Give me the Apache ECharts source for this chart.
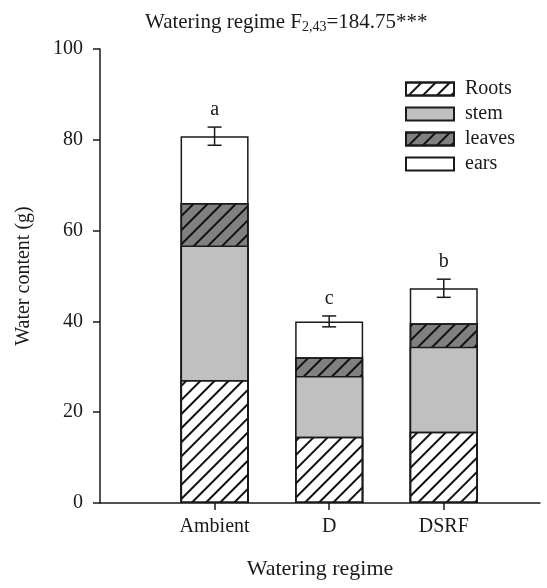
<!DOCTYPE html>
<html>
<head>
<meta charset="utf-8">
<script src="https://cdn.jsdelivr.net/npm/echarts@6/dist/echarts.min.js"></script>
<style>
  html, body { margin: 0; padding: 0; background: #fff; }
  #chart { width: 547px; height: 588px; }
</style>
</head>
<body>
<div id="chart"></div>
<script>
// Water content of plant parts (g) under three watering regimes
const regimes = ['Ambient', 'D', 'DSRF'];
const positions = [1, 2, 3];
const roots = [27.1, 14.6, 15.7];
const stem = [29.6, 13.4, 18.7];
const leaves = [9.4, 4.1, 5.2];
const ears = [14.7, 7.9, 7.7];
const totalErr = [2.0, 1.2, 2.0];
const letters = ['a', 'c', 'b'];
const yTicks = [0, 20, 40, 60, 80, 100];

const FONT = 'Liberation Serif';
const INK = '#1a1a1a';

const hatch = {
  symbol: 'rect',
  symbolSize: 1,
  color: '#111',
  dashArrayX: [1, 0],
  dashArrayY: [1.6, 7.6],
  rotation: -Math.PI / 4
};

// Running tops of each stacked part: roots, +stem, +leaves, +ears
const parts = [roots, stem, leaves, ears];
const tops = parts.map((_, k) =>
  regimes.map((_, i) => parts.slice(0, k + 1).reduce((s, arr) => s + arr[i], 0))
);
const totals = tops[3];

// Each part is drawn as a bar from zero to its running top; upper parts are
// drawn first so the lower parts sit over them and show only their own band.
function barSeries(name, k, fill, decal) {
  const itemStyle = {
    color: fill,
    borderColor: INK,
    borderWidth: 1.5
  };
  if (decal) itemStyle.decal = decal;
  return {
    name: name,
    type: 'bar',
    barWidth: 68,
    barGap: '-100%',
    z: 2 + (3 - k) * 0.1,
    data: tops[k].map((v, i) => [positions[i], v]),
    itemStyle: itemStyle,
    emphasis: { disabled: true },
    animation: false
  };
}

const chart = echarts.init(document.getElementById('chart'), null, { renderer: 'canvas' });

chart.setOption({
  backgroundColor: '#fff',
  animation: false,
  title: {
    text: '{t|Watering regime F}{s|2,43}{t|=184.75***}',
    left: 145,
    top: 10,
    padding: 0,
    textStyle: {
      fontWeight: 'normal',
      rich: {
        t: { fontFamily: FONT, fontSize: 21, fontWeight: 'normal', color: INK, lineHeight: 24 },
        s: { fontFamily: FONT, fontSize: 14, fontWeight: 'normal', color: INK, lineHeight: 12, verticalAlign: 'bottom' }
      }
    }
  },
  legend: {
    orient: 'vertical',
    left: 400,
    top: 74,
    itemWidth: 48,
    itemHeight: 13,
    itemGap: 5,
    icon: 'rect',
    selectedMode: false,
    data: ['Roots', 'stem', 'leaves', 'ears'],
    textStyle: { fontFamily: FONT, fontSize: 20, color: INK, padding: [0, 0, 0, 6] }
  },
  grid: { left: 100, right: 7, top: 49, bottom: 85, containLabel: false },
  xAxis: {
    type: 'value',
    min: 0,
    max: 3.84,
    name: 'Watering regime',
    nameLocation: 'middle',
    nameGap: 55,
    nameTextStyle: { fontFamily: FONT, fontSize: 22, color: INK },
    splitLine: { show: false },
    axisLine: { show: true, lineStyle: { color: INK, width: 1.5 } },
    axisTick: { show: true, inside: false, length: 7, customValues: positions, lineStyle: { color: INK, width: 1.5 } },
    axisLabel: {
      customValues: positions,
      margin: 14,
      fontFamily: FONT,
      fontSize: 20,
      color: INK,
      formatter: v => regimes[positions.indexOf(v)] || ''
    }
  },
  yAxis: {
    type: 'value',
    min: 0,
    max: 100,
    interval: 20,
    name: 'Water content (g)',
    nameLocation: 'middle',
    nameGap: 66,
    nameTextStyle: { fontFamily: FONT, fontSize: 20, color: INK },
    splitLine: { show: false },
    axisLine: { show: true, lineStyle: { color: INK, width: 1.5 } },
    axisTick: { show: true, inside: false, length: 7, lineStyle: { color: INK, width: 1.5 } },
    axisLabel: {
      margin: 17,
      fontFamily: FONT,
      fontSize: 20,
      color: INK,
      customValues: yTicks
    }
  },
  series: [
    barSeries('ears', 3, '#ffffff'),
    barSeries('leaves', 2, '#808080', hatch),
    barSeries('stem', 1, '#c0c0c0'),
    barSeries('Roots', 0, '#ffffff', hatch),
    {
      name: 'error',
      type: 'custom',
      silent: true,
      z: 5,
      data: regimes.map((_, i) => [positions[i], totals[i], totalErr[i], i]),
      renderItem: function (params, api) {
        const x = api.value(0);
        const m = api.value(1);
        const e = api.value(2);
        const idx = api.value(3);
        const top = api.coord([x, m + e]);
        const bot = api.coord([x, m - e]);
        const cap = 7;
        const ls = { stroke: INK, lineWidth: 1.5 };
        return {
          type: 'group',
          children: [
            { type: 'line', shape: { x1: top[0], y1: top[1], x2: bot[0], y2: bot[1] }, style: ls },
            { type: 'line', shape: { x1: top[0] - cap, y1: top[1], x2: top[0] + cap, y2: top[1] }, style: ls },
            { type: 'line', shape: { x1: bot[0] - cap, y1: bot[1], x2: bot[0] + cap, y2: bot[1] }, style: ls },
            {
              type: 'text',
              x: top[0],
              y: top[1] - 7,
              style: {
                text: letters[idx],
                fontFamily: FONT,
                fontSize: 20,
                fill: INK,
                align: 'center',
                verticalAlign: 'bottom'
              }
            }
          ]
        };
      }
    }
  ]
});
</script>
</body>
</html>
